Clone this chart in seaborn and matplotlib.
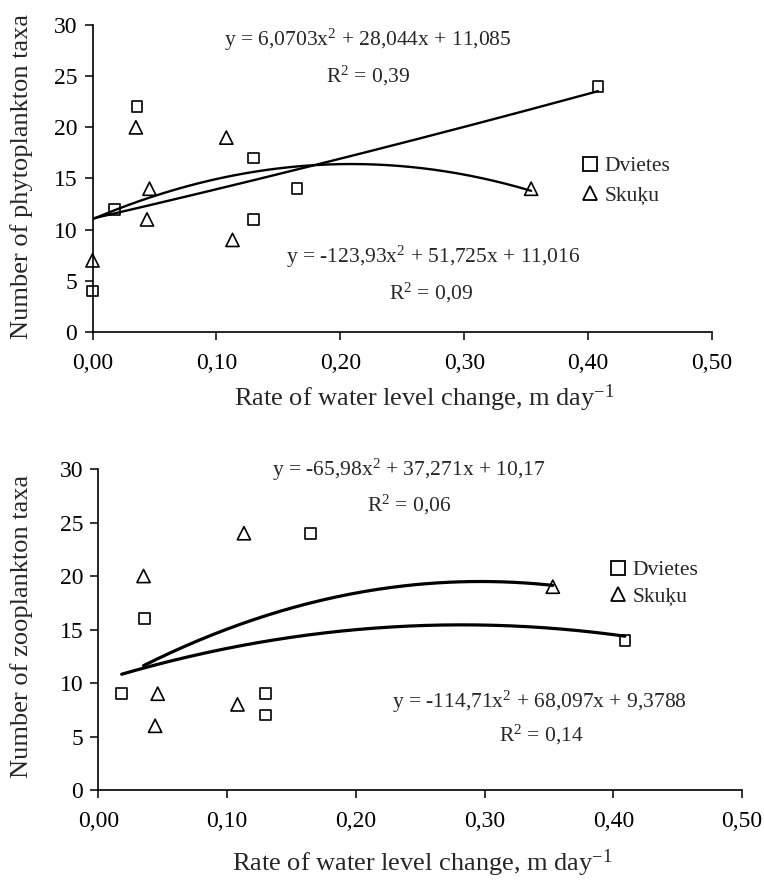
import numpy as np
import matplotlib
matplotlib.use('Agg')
import matplotlib.pyplot as plt
import seaborn as sns
from matplotlib.lines import Line2D

# phytoplankton (top panel)
phyto_dv_x = [0.000, 0.018, 0.036, 0.130, 0.130, 0.165, 0.408]
phyto_dv_y = [4, 12, 22, 17, 11, 14, 24]
phyto_sk_x = [0.000, 0.035, 0.044, 0.046, 0.108, 0.113, 0.354]
phyto_sk_y = [7, 20, 11, 14, 19, 9, 14]

# zooplankton (bottom panel)
zoo_dv_x = [0.018, 0.036, 0.130, 0.130, 0.165, 0.409]
zoo_dv_y = [9, 16, 9, 7, 24, 14]
zoo_sk_x = [0.035, 0.044, 0.046, 0.108, 0.113, 0.353]
zoo_sk_y = [20, 6, 9, 8, 24, 19]

# polynomial trend coefficients printed on the chart (a, b, c)
phyto_dv_coef = [6.0703, 28.044, 11.085]
phyto_sk_coef = [-123.93, 51.725, 11.016]
zoo_dv_coef = [-65.98, 37.271, 10.17]
zoo_sk_coef = [-114.71, 68.097, 9.3788]

sites = ['Dvietes', 'Skuķu']
x_ticks = [0.0, 0.1, 0.2, 0.3, 0.4, 0.5]
y_ticks = [0, 5, 10, 15, 20, 25, 30]
x_label = 'Rate of water level change, m day$^{-1}$'

sns.set_theme(style='ticks')
plt.rcParams['font.family'] = ['Liberation Serif', 'DejaVu Serif']
plt.rcParams['mathtext.fontset'] = 'custom'
plt.rcParams['mathtext.rm'] = 'Liberation Serif'
plt.rcParams['mathtext.it'] = 'Liberation Serif:italic'
plt.rcParams['mathtext.bf'] = 'Liberation Serif:bold'
plt.rcParams['axes.edgecolor'] = 'black'
plt.rcParams['xtick.color'] = 'black'
plt.rcParams['ytick.color'] = 'black'

W, H = 764, 880
fig = plt.figure(figsize=(W / 100, H / 100), dpi=100)


def px_axes(l, t, r, b):
    return fig.add_axes([l / W, 1 - b / H, (r - l) / W, (b - t) / H])


def draw_panel(ax, dv_x, dv_y, sk_x, sk_y, dv_coef, sk_coef, lw):
    for xs, coef in ((dv_x, dv_coef), (sk_x, sk_coef)):
        xx = np.linspace(min(xs), max(xs), 150)
        sns.lineplot(x=xx, y=np.polyval(coef, xx), color='black', lw=lw, ax=ax)
    sns.scatterplot(x=dv_x, y=dv_y, marker='s', s=60, facecolor='none',
                    edgecolor='black', linewidth=1.2, clip_on=False, zorder=3, ax=ax)
    sns.scatterplot(x=sk_x, y=sk_y, marker='^', s=90, facecolor='none',
                    edgecolor='black', linewidth=1.2, clip_on=False, zorder=3, ax=ax)
    ax.set_xlim(0, 0.5)
    ax.set_ylim(0, 30)
    ax.set_xticks(x_ticks)
    ax.set_xticklabels([f'{t:.2f}'.replace('.', ',') for t in x_ticks])
    ax.set_yticks(y_ticks)
    ax.tick_params(axis='x', length=6, width=1.1, pad=9, labelsize=17)
    ax.tick_params(axis='y', length=6, width=1.1, pad=5, labelsize=17)
    for sp in ax.spines.values():
        sp.set_linewidth(1.2)
    sns.despine(ax=ax)


def add_legend(ax, left, top, spacing):
    handles = [
        Line2D([], [], ls='none', marker='s', ms=9.5, mfc='none', mec='black', mew=1.3),
        Line2D([], [], ls='none', marker='^', ms=10.5, mfc='none', mec='black', mew=1.3),
    ]
    ax.legend(handles, sites, loc='upper left', bbox_to_anchor=(left / W, 1 - top / H),
              bbox_transform=fig.transFigure, frameon=False, fontsize=15.5,
              handlelength=0.9, handletextpad=0.25, labelspacing=spacing, borderpad=0,
              borderaxespad=0)


# top panel
ax1 = px_axes(92.5, 25, 712, 332)
draw_panel(ax1, phyto_dv_x, phyto_dv_y, phyto_sk_x, phyto_sk_y,
           phyto_dv_coef, phyto_sk_coef, 1.7)
ax1.set_xlabel(x_label, fontsize=19)
ax1.set_ylabel('Number of phytoplankton taxa', fontsize=19)
ax1.xaxis.set_label_coords(0.535, -0.215)
ax1.yaxis.set_label_coords(-0.114, 0.505)
ax1.xaxis.label.set_va('center')
ax1.yaxis.label.set_va('center')
add_legend(ax1, 580, 156, 0.45)

# bottom panel
ax2 = px_axes(98.5, 469, 742, 790)
draw_panel(ax2, zoo_dv_x, zoo_dv_y, zoo_sk_x, zoo_sk_y,
           zoo_dv_coef, zoo_sk_coef, 2.3)
ax2.set_xlabel(x_label, fontsize=19)
ax2.set_ylabel('Number of zooplankton taxa', fontsize=19)
ax2.xaxis.set_label_coords(0.503, -0.228)
ax2.yaxis.set_label_coords(-0.119, 0.508)
ax2.xaxis.label.set_va('center')
ax2.yaxis.label.set_va('center')
add_legend(ax2, 608, 560, 0.3)

# trend equations
eq_fs = 15.5
fig.text(368 / W, 1 - 40 / H, 'y = 6,0703x$^2$ + 28,044x + 11,085', ha='center', va='center', fontsize=eq_fs)
fig.text(368 / W, 1 - 76 / H, 'R$^2$ = 0,39', ha='center', va='center', fontsize=eq_fs)
fig.text(433 / W, 1 - 257 / H, 'y = -123,93x$^2$ + 51,725x + 11,016', ha='center', va='center', fontsize=eq_fs)
fig.text(431 / W, 1 - 293 / H, 'R$^2$ = 0,09', ha='center', va='center', fontsize=eq_fs)
fig.text(409 / W, 1 - 470 / H, 'y = -65,98x$^2$ + 37,271x + 10,17', ha='center', va='center', fontsize=eq_fs)
fig.text(409 / W, 1 - 505 / H, 'R$^2$ = 0,06', ha='center', va='center', fontsize=eq_fs)
fig.text(539 / W, 1 - 702 / H, 'y = -114,71x$^2$ + 68,097x + 9,3788', ha='center', va='center', fontsize=eq_fs)
fig.text(541 / W, 1 - 735 / H, 'R$^2$ = 0,14', ha='center', va='center', fontsize=eq_fs)

fig.savefig('out.png', dpi=100)
